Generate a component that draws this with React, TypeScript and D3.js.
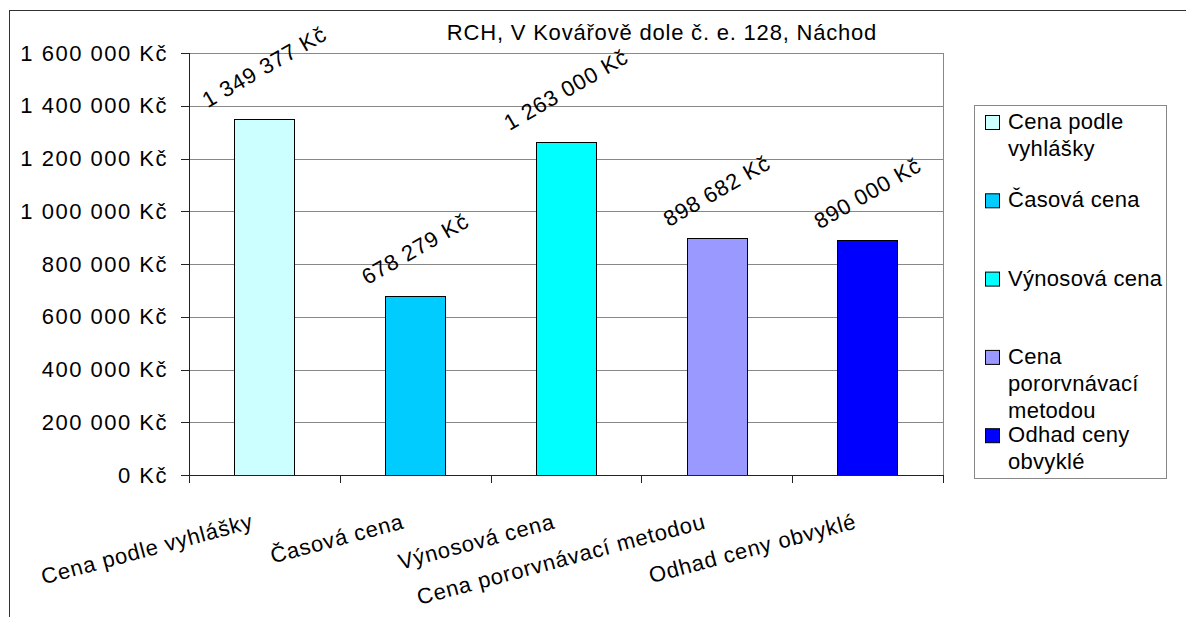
import React from "react";
import * as d3 from "d3";

const title = "RCH, V Kovářově dole č. e. 128, Náchod";
const categories = [
  "Cena podle vyhlášky",
  "Časová cena",
  "Výnosová cena",
  "Cena pororvnávací metodou",
  "Odhad ceny obvyklé",
];
const values = [1349377, 678279, 1263000, 898682, 890000];
const colors = ["#CCFFFF", "#00CCFF", "#00FFFF", "#9999FF", "#0000FF"];
const yTicks = [0, 200000, 400000, 600000, 800000, 1000000, 1200000, 1400000, 1600000];
const legendLines = [
  ["Cena podle", "vyhlášky"],
  ["Časová cena"],
  ["Výnosová cena"],
  ["Cena", "pororvnávací", "metodou"],
  ["Odhad ceny", "obvyklé"],
];

const W = 1186;
const H = 617;
const FONT = "'Liberation Sans', Arial, sans-serif";
const FS = 22;
const LS = 0.8;

const locale = d3.formatLocale({
  decimal: ",",
  thousands: " ",
  grouping: [3],
  currency: ["", " Kč"],
});
const fmt = (v: number) => locale.format(",")(v) + " Kč";

let ctx: CanvasRenderingContext2D | null = null;
function textWidth(s: string): number {
  if (!ctx) {
    const c = document.createElement("canvas");
    ctx = c.getContext("2d");
  }
  if (!ctx) return s.length * FS * 0.55;
  ctx.font = `${FS}px ${FONT}`;
  return ctx.measureText(s).width + LS * (s.length - 1);
}

export default function App() {
  const plot = { left: 189, right: 943, top: 53, bottom: 475 };
  const x = d3
    .scaleBand<string>()
    .domain(categories)
    .range([plot.left, plot.right])
    .paddingInner(0.6)
    .paddingOuter(0.3);
  const y = d3.scaleLinear().domain([0, 1600000]).range([plot.bottom, plot.top]);
  const boundaries = d3
    .range(categories.length + 1)
    .map((i) => plot.left + (i * (plot.right - plot.left)) / categories.length);

  const textStyle: React.CSSProperties = { fontFamily: FONT, fontSize: FS, letterSpacing: LS };

  const angle = 30;
  const rad = (angle * Math.PI) / 180;

  const legendX = 974;
  const legendY = 105;
  const legendW = 192;
  const legendH = 373;
  const legendStep = 78.3;
  const legendFirst = 115;
  const lineH = 27;

  return (
    <svg
      width={W}
      height={H}
      style={{ position: "absolute", left: 0, top: 0, display: "block", background: "#fff" }}
    >
      {/* outer chart border */}
      <rect x={9.5} y={10.5} width={W + 20} height={H + 20} fill="#fff" stroke="#333" strokeWidth={1} />

      {/* title */}
      <text x={662} y={40} textAnchor="middle" style={textStyle} fill="#000">
        {title}
      </text>

      {/* gridlines */}
      {yTicks.map((t) => (
        <line
          key={"g" + t}
          x1={plot.left}
          x2={plot.right}
          y1={Math.round(y(t)) + 0.5}
          y2={Math.round(y(t)) + 0.5}
          stroke="#888"
          strokeWidth={1}
        />
      ))}
      {/* plot right border */}
      <line x1={plot.right + 0.5} x2={plot.right + 0.5} y1={plot.top} y2={plot.bottom} stroke="#888" />

      {/* bars */}
      {categories.map((c, i) => (
        <rect
          key={"b" + c}
          x={Math.round(x(c)!) + 0.5}
          y={Math.round(y(values[i])) + 0.5}
          width={Math.round(x.bandwidth())}
          height={Math.round(y(0)) - Math.round(y(values[i]))}
          fill={colors[i]}
          stroke="#000"
          strokeWidth={1}
        />
      ))}

      {/* axes */}
      <line x1={plot.left + 0.5} x2={plot.left + 0.5} y1={plot.top} y2={plot.bottom + 0.5} stroke="#222" />
      <line x1={plot.left} x2={plot.right + 1} y1={plot.bottom + 0.5} y2={plot.bottom + 0.5} stroke="#222" />
      {yTicks.map((t) => (
        <g key={"yt" + t}>
          <line
            x1={plot.left - 8}
            x2={plot.left}
            y1={Math.round(y(t)) + 0.5}
            y2={Math.round(y(t)) + 0.5}
            stroke="#222"
          />
          <text
            x={168}
            y={y(t)}
            textAnchor="end"
            dominantBaseline="central"
            style={{ ...textStyle, letterSpacing: 1.5 }}
            fill="#000"
          >
            {fmt(t)}
          </text>
        </g>
      ))}
      {boundaries.map((b, i) => (
        <line
          key={"xt" + i}
          x1={Math.round(b) + 0.5}
          x2={Math.round(b) + 0.5}
          y1={plot.bottom}
          y2={plot.bottom + 8}
          stroke="#222"
        />
      ))}

      {/* x labels */}
      {categories.map((c) => {
        const cx = x(c)! + x.bandwidth() / 2 - 10;
        const cy = 528;
        return (
          <text
            key={"xl" + c}
            x={cx}
            y={cy}
            textAnchor="end"
            transform={`rotate(-15 ${cx} ${cy})`}
            style={textStyle}
            fill="#000"
          >
            {c}
          </text>
        );
      })}

      {/* data labels */}
      {categories.map((c, i) => {
        const s = fmt(values[i]);
        const L = textWidth(s);
        const h = FS;
        const bboxH = L * Math.sin(rad) + h * Math.cos(rad);
        const cx = x(c)! + x.bandwidth() / 2;
        const cy = y(values[i]) - 8 - bboxH / 2;
        return (
          <text
            key={"dl" + c}
            x={cx}
            y={cy}
            textAnchor="middle"
            dominantBaseline="central"
            transform={`rotate(${-angle} ${cx} ${cy})`}
            style={textStyle}
            fill="#000"
          >
            {s}
          </text>
        );
      })}

      {/* legend */}
      <rect x={legendX + 0.5} y={legendY + 0.5} width={legendW} height={legendH} fill="#fff" stroke="#888" />
      {legendLines.map((lines, i) => {
        const top = legendFirst + i * legendStep;
        return (
          <g key={"lg" + i}>
            <rect x={985.5} y={top + 0.5} width={14} height={14} fill={colors[i]} stroke="#000" />
            {lines.map((ln, j) => (
              <text
                key={j}
                x={1008}
                y={top + 14 + j * lineH}
                style={{ ...textStyle, letterSpacing: 0.3 }}
                fill="#000"
              >
                {ln}
              </text>
            ))}
          </g>
        );
      })}
    </svg>
  );
}
